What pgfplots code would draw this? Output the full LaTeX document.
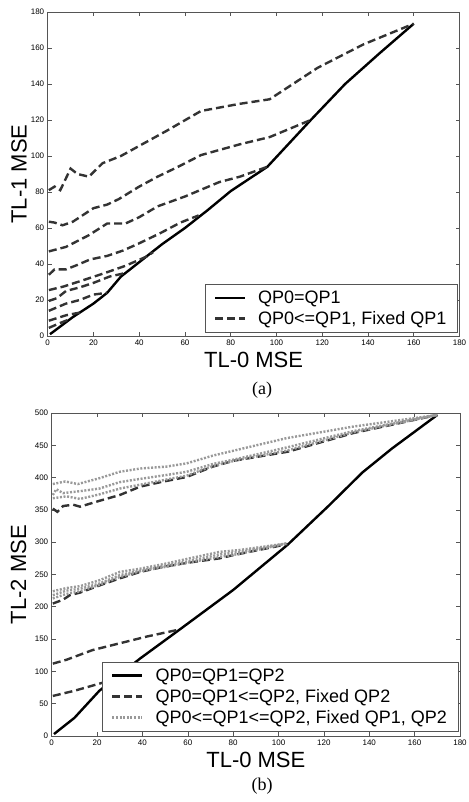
\documentclass[border=0pt]{standalone}
\usepackage{fontspec}
\setmainfont{Liberation Sans}
\newfontfamily\seriffont{Liberation Serif}
\usepackage{pgfplots}
\pgfplotsset{compat=1.18}
\definecolor{dk}{HTML}{333333}
\definecolor{dt}{HTML}{999999}
\definecolor{ax}{HTML}{555555}
\pgfplotsset{
 mystyle/.style={
  scale only axis,
  axis line style={ax, line width=0.8pt},
  tick style={ax, line width=0.6pt},
  major tick length=4pt, tick align=inside, tick pos=both,
  ticklabel style={font=\fontsize{8}{9}\selectfont, text=black},
  /pgf/number format/assume math mode=true,
  label style={font=\fontsize{22}{24}\selectfont, inner sep=0pt},
  legend cell align=left,
  legend style={font=\fontsize{18}{20}\selectfont, draw=ax, inner xsep=9pt, inner ysep=4pt, row sep=2.5pt},
  legend image code/.code={\draw[##1] (0pt,0pt) -- (30pt,0pt); \path (40pt,0pt);},
  xmin=0, xmax=180, xtick={0,20,...,180},
 },
 sol/.style={black, line width=2.4pt},
 dsh/.style={dk, line width=2.4pt, dash pattern=on 8pt off 4pt},
 dot/.style={dt, line width=2.4pt, dash pattern=on 2pt off 1.6pt},
}
\begin{document}
\begin{tikzpicture}
\path[use as bounding box] (0,0) rectangle (468pt,802pt);
% ---------------- (a)
\begin{axis}[mystyle,
  at={(47.7pt,466pt)}, anchor=south west, width=411.8pt, height=324pt,
  ymin=0, ymax=180, ytick={0,20,...,180},
  xlabel={TL-0 MSE}, ylabel={TL-1 MSE},
  xlabel style={at={(axis description cs:0.5,-0.0494)}, anchor=north},
  ylabel style={at={(axis description cs:-0.0697,0.5)}, anchor=center},
  legend style={at={(1,0)}, anchor=south east, xshift=-2pt, yshift=4pt},
]
\addplot[sol] coordinates {(1,1) (11,10.5) (20,18) (26,24) (32,33) (40,41) (50,51) (60,60) (70,70) (80,80.5) (96,94) (115,120) (130,140) (145,157) (160,173.5)};
\addlegendentry{QP0=QP1}
\addplot[dsh] coordinates {(0.5,81) (3,83) (5.5,81) (10,93) (13,90) (18,88.5) (24,96) (32,100) (42,107) (52,114) (67,125) (84,129) (97,131.5) (118,149) (138,162) (160,173.5)};
\addlegendentry{QP0<=QP1, Fixed QP1}
\addplot[dsh, forget plot] coordinates {(0.5,63.5) (3,63) (6.5,61.5) (11,63.5) (20,71) (26,73) (31,76) (40,83) (48,88.5) (57,94) (67,100.5) (84,106.5) (97,110.5) (115,120)};
\addplot[dsh, forget plot] coordinates {(0.5,47) (8,49.5) (18,56) (26,62.5) (34,62.5) (40,66) (48,72) (60,77.5) (75,85.5) (84,88.5) (96,94)};
\addplot[dsh, forget plot] coordinates {(0.5,34) (3,37) (8,37) (13,39.5) (18.5,42.5) (26,44.5) (33,47.5) (40,51.5) (49,57) (58,63) (66,67)};
\addplot[dsh, forget plot] coordinates {(0.5,25.5) (7,27.5) (15.5,31) (25,35) (34,39) (43,44) (46,46.5)};
\addplot[dsh, forget plot] coordinates {(0.5,19.5) (4,21) (8,25) (14,27) (20,29.5) (27,33) (34,35)};
\addplot[dsh, forget plot] coordinates {(0.5,14) (8,18) (14,20) (20,23) (26,24)};
\addplot[dsh, forget plot] coordinates {(0.5,8.5) (8,11.5) (14,13)};
\addplot[dsh, forget plot] coordinates {(0.5,4.5) (5,7) (9,9)};
\end{axis}
\node[font=\seriffont\fontsize{18}{20}\selectfont] at (262pt,412pt) {(a)};
% ---------------- (b)
\begin{axis}[mystyle,
  at={(51.7pt,66pt)}, anchor=south west, width=408.3pt, height=323pt,
  ymin=0, ymax=500, ytick={0,50,...,500},
  xlabel={TL-0 MSE}, ylabel={TL-2 MSE},
  xlabel style={at={(axis description cs:0.5,-0.0495)}, anchor=north},
  ylabel style={at={(axis description cs:-0.0813,0.5)}, anchor=center},
  legend style={at={(1,0)}, anchor=south east, xshift=-2pt, yshift=5pt},
]
\addplot[sol] coordinates {(1,3) (10,28) (21,70) (39,120) (56.5,165) (80,226) (104,296) (122,356) (137,408) (150,445) (170,497)};
\addlegendentry{QP0=QP1=QP2}
\addplot[dsh] coordinates {(0.5,352) (2.5,347) (4,352) (5,356) (9.5,358) (12.5,355) (21,364) (30,373) (39,386) (48,393) (59.5,401) (71,417) (80,426) (104,440) (133,469) (170,497)};
\addlegendentry{QP0=QP1<=QP2, Fixed QP2}
\addplot[dsh, forget plot] coordinates {(0.5,205) (5,211) (8,218) (12.5,222) (21,233) (30,244) (39,254) (48,261) (59.5,268) (74,275) (80,280) (104,297)};
\addplot[dsh, forget plot] coordinates {(0.5,112) (6.5,118) (18,133) (30,143.5) (42,154) (56.5,165)};
\addplot[dsh, forget plot] coordinates {(0.5,62) (10,70) (20,80) (27,87)};
\addplot[dot] coordinates {(0.5,390) (6,394) (11.5,390) (21,399) (30,409) (39,414) (50.5,417) (59.5,422) (71,434) (83,444) (103.5,461) (133,479) (170,497)};
\addlegendentry{QP0<=QP1<=QP2, Fixed QP1, QP2}
\addplot[dot, forget plot] coordinates {(0.5,373) (2,382) (5,376) (12.5,379) (21,383) (30,393) (39,398) (50.5,404) (59.5,409) (71,421) (83,430) (104,447) (133,472) (170,497)};
\addplot[dot, forget plot] coordinates {(0.5,368) (6.5,371) (12.5,367) (21,374) (30,383) (39,389) (50.5,397) (59.5,403) (71,418) (83,428) (104,442) (133,470) (170,497)};
\addplot[dot, forget plot] coordinates {(0.5,224) (6.5,229) (12.5,232) (21,241) (30,254) (39,259) (50.5,267) (59.5,274) (74,285) (83,288) (103.5,298)};
\addplot[dot, forget plot] coordinates {(0.5,218) (6.5,225) (12.5,228) (21,236) (30,249) (39,256) (50.5,264) (59.5,270) (74,281) (83,285) (103.5,298)};
\addplot[dot, forget plot] coordinates {(0.5,213) (6.5,220) (12.5,224) (21,234) (30,246) (39,255) (50.5,262) (59.5,268) (74,277) (83,282) (103.5,298)};
\end{axis}
\node[font=\seriffont\fontsize{18}{20}\selectfont] at (262pt,16pt) {(b)};
\end{tikzpicture}
\end{document}
